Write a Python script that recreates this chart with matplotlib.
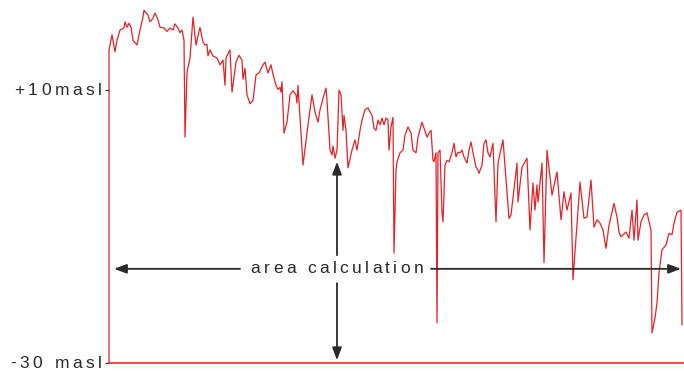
import matplotlib
matplotlib.use("Agg")
import matplotlib.pyplot as plt
import matplotlib.transforms as mtransforms
from matplotlib.font_manager import FontProperties, findfont
from matplotlib.ft2font import FT2Font

# ground profile: distance along section and elevation (m above sea level)
dist = [0, 3, 6, 8, 11, 15, 16, 18, 20, 22, 24, 28, 31, 34, 35, 39, 41, 44, 46, 49,
        51, 55, 58, 61, 64, 66, 69, 71, 73, 75, 76, 78, 81, 84, 87, 91, 94, 96, 98, 99,
        101, 104, 108, 111, 114, 116, 117, 121, 123, 127, 130, 133, 134, 136, 138, 141, 144, 147, 150, 154,
        156, 159, 162, 164, 167, 169, 171, 172, 173, 175, 178, 181, 184, 187, 188, 189, 194, 199, 203, 206,
        209, 211, 215, 217, 218, 221, 223, 224, 226, 228, 229, 230, 232, 234, 235, 237, 239, 243, 246, 248,
        251, 253, 256, 259, 261, 263, 265, 267, 269, 271, 273, 275, 277, 279, 280, 282, 284, 285, 287, 288,
        291, 294, 296, 299, 302, 304, 307, 309, 313, 315, 318, 320, 322, 324, 325, 327, 328, 329, 331, 333,
        334, 336, 338, 340, 343, 345, 347, 349, 351, 353, 355, 358, 360, 362, 364, 367, 369, 370, 373, 375,
        377, 379, 381, 384, 387, 389, 394, 400, 402, 408, 409, 413, 418, 421, 424, 426, 428, 429, 433, 435,
        438, 443, 448, 452, 455, 458, 462, 464, 471, 475, 478, 482, 485, 488, 491, 494, 497, 500, 505, 508,
        510, 512, 517, 520, 523, 525, 528, 529, 532, 535, 538, 542, 543, 546, 548, 550, 553, 557, 560, 563,
        565, 568, 572, 573]
elev = [15.9, 18.1, 15.6, 17.3, 18.8, 19.1, 20.0, 19.2, 19.8, 19.2, 17.3, 16.6, 18.8, 20.7, 21.7, 21.0, 20.0, 20.5, 21.3, 20.3,
        19.2, 19.1, 18.6, 19.1, 18.8, 19.7, 19.1, 18.4, 18.8, 17.3, 3.1, 12.6, 14.7, 20.7, 16.6, 19.2, 17.0, 16.6, 16.7, 15.0,
        15.9, 15.0, 14.7, 13.7, 14.4, 10.7, 14.7, 15.9, 9.7, 14.1, 15.1, 14.4, 11.6, 13.2, 9.3, 8.0, 8.5, 12.2, 12.5, 13.7,
        14.1, 12.5, 13.7, 12.3, 10.7, 10.1, 10.4, 9.7, 11.2, 3.7, 5.3, 9.3, 9.9, 9.3, 8.1, 10.7, -1.0, 4.9, 9.3, 6.8,
        5.3, 7.1, 9.3, 10.3, 8.5, 1.2, 0.5, 1.8, 0.0, 1.2, 5.6, 10.0, 9.3, 4.1, 6.3, 4.1, -1.4, 1.2, 2.7, 1.2,
        4.1, 5.6, 7.1, 7.4, 6.8, 6.3, 4.4, 4.1, 5.6, 4.9, 5.9, 4.9, 5.9, 5.6, 1.2, 4.6, 6.0, -13.9, -1.7, -0.5,
        0.8, 1.2, 3.4, 4.6, 3.7, 1.2, 0.8, 3.1, 5.3, 4.4, 3.1, 3.7, 4.1, -0.3, -0.5, 0.8, -24.1, 0.8, 1.2, -8.0,
        -9.3, -1.0, -0.3, -0.5, 0.8, 2.2, 0.2, 0.9, 0.8, 1.2, 0.2, -0.7, 1.2, 2.4, 0.8, -1.3, -1.7, -2.2, -1.0, 2.2,
        2.7, 0.8, 0.2, 2.2, -9.3, -0.7, 2.7, -8.8, -8.3, -0.7, -6.4, -1.3, 0.0, -10.5, -3.6, -7.6, -3.9, -6.4, -0.7, -15.3,
        1.2, -5.4, -2.0, -9.0, -4.9, -7.6, -5.1, -17.8, -3.5, -8.8, -8.6, -3.2, -10.1, -9.0, -9.5, -10.5, -13.2, -9.8, -6.6, -8.6,
        -10.8, -11.5, -10.8, -11.7, -7.6, -12.0, -6.1, -12.0, -9.3, -8.3, -8.0, -10.5, -25.6, -23.4, -21.2, -16.8, -13.4, -12.7, -11.0, -11.2,
        -9.5, -7.9, -7.6, -24.4]

base_level = -30
ticks = [10, -30]
tick_labels = ["+10masl", "-30 masl"]
annotation = "area calculation"

RED = "#e52228"
INK = "#2a2a2a"
FONT = "Liberation Sans"
SIZE = 12.5


def char_advances(text, prop, dpi):
    # pen advance of each glyph, in pixels
    font = FT2Font(findfont(prop))
    font.set_size(prop.get_size_in_points(), dpi)
    return [font.load_char(ord(c)).linearHoriAdvance / 65536 for c in text]


def tracked_text(ax, x, y, text, track=3.5, ha="left", dx=0.0):
    # letter-spaced text, laid out one glyph at a time
    fig = ax.figure
    prop = FontProperties(family=FONT, size=SIZE)
    adv = char_advances(text, prop, fig.dpi)
    total = sum(adv) + track * (len(text) - 1)
    pos = dx + {"left": 0.0, "center": -total / 2, "right": -total}[ha]
    for c, a in zip(text, adv):
        tr = mtransforms.offset_copy(ax.transData, fig=fig, x=pos, y=0, units="dots")
        ax.text(x, y, c, transform=tr, ha="left", va="center",
                fontproperties=prop, color=INK, clip_on=False)
        pos += a + track


def arrow(ax, start, end):
    ax.annotate("", xy=end, xytext=start,
                arrowprops=dict(arrowstyle="-|>,head_length=0.75,head_width=0.28",
                                color=INK, lw=1.3, shrinkA=0, shrinkB=0))


fig = plt.figure(figsize=(6.84, 3.74), dpi=100)
ax = fig.add_axes([109 / 684, 11 / 374, 575 / 684, 363 / 374])

ax.plot([0] + dist, [base_level] + elev, color=RED, lw=0.9, clip_on=False)

ax.set_xlim(0, 575)
ax.set_ylim(base_level, 23.2)
for side in ["top", "right", "left"]:
    ax.spines[side].set_visible(False)
ax.spines["bottom"].set_color(RED)
ax.spines["bottom"].set_linewidth(1.1)
ax.set_xticks([])
ax.set_yticks(ticks)
ax.tick_params(axis="y", length=3, width=0.8, color=INK, labelleft=False)

for t, lab in zip(ticks, tick_labels):
    tracked_text(ax, 0, t, lab, track=3.6, ha="right", dx=-7)

# double arrows with the label sitting where they cross
arrow(ax, (131, -16.2), (5, -16.2))
arrow(ax, (322, -16.2), (572, -16.2))
arrow(ax, (228, -14.2), (228, -0.5))
arrow(ax, (228, -18.3), (228, -29.6))
tracked_text(ax, 228, -16.2, annotation, track=3.4, ha="center")

fig.savefig("out.png", dpi=100)
